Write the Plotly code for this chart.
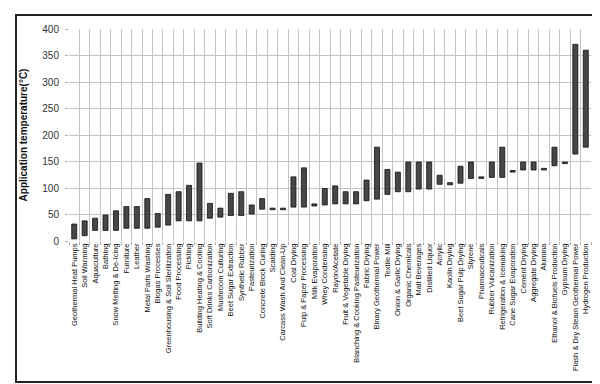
import plotly.graph_objects as go

categories = [
    "Geothermal Heat Pumps", "Soil Warming", "Aquaculture", "Bathing",
    "Snow Melting & De-Icing", "Furniture", "Leather", "Metal Parts Washing",
    "Biogas Processes", "Greenhousing & Soil Sterilization", "Food Processing",
    "Pickling", "Building Heating & Cooling", "Soft Drinks Carbonization",
    "Mushroom Culturing", "Beet Sugar Extraction", "Synthetic Rubber",
    "Pasteurization", "Concrete Block Curing", "Scalding",
    "Carcass Wash And Clean-Up", "Coal Drying", "Pulp & Paper Processing",
    "Milk Evaporation", "Whey Condensing", "Rayon/Acetate",
    "Fruit & Vegetable Drying", "Blanching & Cooking Pasteurization",
    "Fabric Drying", "Binary Geothermal Power", "Textile Mill",
    "Onion & Garlic Drying", "Organic Chemicals", "Malt Beverages",
    "Distilled Liquor", "Acrylic", "Kaolin Drying", "Beet Sugar Pulp Drying",
    "Styrene", "Pharmaceuticals", "Rubber Vulcanization",
    "Refrigeration & Icemaking", "Cane Sugar Evaporation", "Cement Drying",
    "Aggregate Drying", "Alumina", "Ethanol & Biofuels Production",
    "Gypsum Drying", "Flash & Dry Steam Geothermal Power", "Hydrogen Production",
]

temp_min = [4, 10, 20, 20, 20, 24, 24, 24, 26, 30, 38, 38, 38, 43, 45, 48, 48,
            51, 60, 59, 59, 64, 64, 66, 68, 70, 70, 70, 76, 79, 88, 93, 93, 98,
            98, 107, 106, 109, 118, 118, 120, 120, 130, 134, 134, 134, 142, 146,
            164, 177]
temp_max = [32, 38, 43, 49, 57, 65, 65, 80, 52, 88, 93, 105, 147, 71, 62, 90, 93,
            68, 80, 62, 62, 121, 138, 70, 99, 104, 93, 93, 115, 177, 135, 130, 149,
            149, 149, 124, 110, 141, 149, 121, 149, 177, 133, 149, 149, 137, 177,
            149, 371, 360]

y_ticks = [0, 50, 100, 150, 200, 250, 300, 350, 400]

spans = [hi - lo for lo, hi in zip(temp_min, temp_max)]

fig = go.Figure(go.Bar(
    x=categories, y=spans, base=temp_min, width=0.48,
    marker=dict(color="#474747", line=dict(color="#111111", width=0.8)),
))

L, R, T, B = 61, 17, 21, 151
W, H = 600 - L - R, 384 - T - B

fig.update_layout(
    width=600, height=384,
    margin=dict(l=L, r=R, t=T, b=B),
    paper_bgcolor="white", plot_bgcolor="white",
    font=dict(family="Liberation Sans, Arial, sans-serif", color="#222222"),
    showlegend=False,
)
fig.update_xaxes(
    type="category", tickson="boundaries", tickangle=-90,
    tickfont=dict(size=7.5, color="#111111"),
    showgrid=True, gridcolor="#c4c4c4", gridwidth=1,
    ticks="outside", ticklen=3, tickcolor="#b0b0b0",
    showline=False, zeroline=False,
)
fig.update_yaxes(
    range=[0, 400], tickvals=y_ticks,
    tickfont=dict(size=10, color="#333333"),
    showgrid=True, gridcolor="#c4c4c4", gridwidth=1,
    ticks="outside", ticklen=3, tickcolor="#b0b0b0",
    ticklabelstandoff=4,
    zeroline=False, showline=False,
    title=dict(text="<b>Application temperature(°C)</b>", font=dict(size=10, color="#111111"), standoff=12),
)

fig.add_shape(
    type="rect", xref="paper", yref="paper",
    x0=(8 - L) / W, x1=(590 - L) / W,
    y0=-(374 - (384 - B)) / H, y1=1 + (T - 7) / H,
    line=dict(color="#222222", width=2), fillcolor="rgba(0,0,0,0)", layer="below",
)

fig.write_html("out.html")
